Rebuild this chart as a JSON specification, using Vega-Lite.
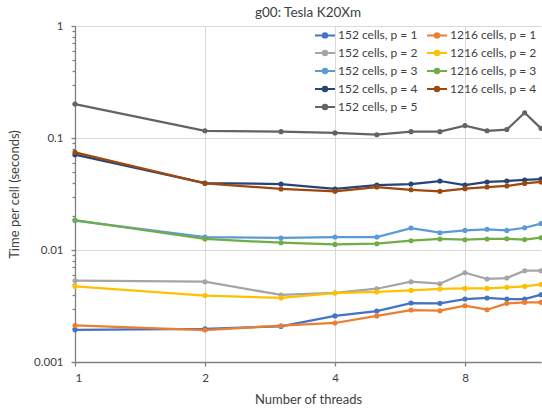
{
  "$schema": "https://vega.github.io/schema/vega-lite/v6.json",
  "width": 466,
  "height": 336,
  "autosize": {"type": "none"},
  "padding": {"left": 75, "top": 26, "right": 1, "bottom": 48},
  "background": "white",
  "title": {"text": "g00: Tesla K20Xm", "font": "Lato", "fontSize": 13.5, "fontWeight": "normal", "color": "#404040", "anchor": "middle", "offset": 1},
  "config": {
    "view": {"stroke": null},
    "axis": {"labelFont": "Lato", "titleFont": "Lato", "labelColor": "#404040", "titleColor": "#404040", "titleFontWeight": "normal", "labelFontSize": 11.5, "titleFontSize": 13, "gridColor": "#d9d9d9", "gridWidth": 1, "domainColor": "#808080", "tickColor": "#808080", "domainWidth": 1.3, "tickWidth": 1.3}
  },
  "data": {"values": [
    {"threads": 1, "time": 0.00194, "series": "152 cells, p = 1"},
    {"threads": 2, "time": 0.00198, "series": "152 cells, p = 1"},
    {"threads": 3, "time": 0.00208, "series": "152 cells, p = 1"},
    {"threads": 4, "time": 0.00258, "series": "152 cells, p = 1"},
    {"threads": 5, "time": 0.00285, "series": "152 cells, p = 1"},
    {"threads": 6, "time": 0.00336, "series": "152 cells, p = 1"},
    {"threads": 7, "time": 0.00334, "series": "152 cells, p = 1"},
    {"threads": 8, "time": 0.00365, "series": "152 cells, p = 1"},
    {"threads": 9, "time": 0.00373, "series": "152 cells, p = 1"},
    {"threads": 10, "time": 0.00365, "series": "152 cells, p = 1"},
    {"threads": 11, "time": 0.00365, "series": "152 cells, p = 1"},
    {"threads": 12, "time": 0.00399, "series": "152 cells, p = 1"},
    {"threads": 1, "time": 0.00212, "series": "1216 cells, p = 1"},
    {"threads": 2, "time": 0.00193, "series": "1216 cells, p = 1"},
    {"threads": 3, "time": 0.00211, "series": "1216 cells, p = 1"},
    {"threads": 4, "time": 0.00223, "series": "1216 cells, p = 1"},
    {"threads": 5, "time": 0.00258, "series": "1216 cells, p = 1"},
    {"threads": 6, "time": 0.00291, "series": "1216 cells, p = 1"},
    {"threads": 7, "time": 0.00287, "series": "1216 cells, p = 1"},
    {"threads": 8, "time": 0.00318, "series": "1216 cells, p = 1"},
    {"threads": 9, "time": 0.00293, "series": "1216 cells, p = 1"},
    {"threads": 10, "time": 0.00334, "series": "1216 cells, p = 1"},
    {"threads": 11, "time": 0.00341, "series": "1216 cells, p = 1"},
    {"threads": 12, "time": 0.00341, "series": "1216 cells, p = 1"},
    {"threads": 1, "time": 0.00532, "series": "152 cells, p = 2"},
    {"threads": 2, "time": 0.00521, "series": "152 cells, p = 2"},
    {"threads": 3, "time": 0.00397, "series": "152 cells, p = 2"},
    {"threads": 4, "time": 0.00415, "series": "152 cells, p = 2"},
    {"threads": 5, "time": 0.00451, "series": "152 cells, p = 2"},
    {"threads": 6, "time": 0.00521, "series": "152 cells, p = 2"},
    {"threads": 7, "time": 0.00500, "series": "152 cells, p = 2"},
    {"threads": 8, "time": 0.00627, "series": "152 cells, p = 2"},
    {"threads": 9, "time": 0.00551, "series": "152 cells, p = 2"},
    {"threads": 10, "time": 0.00562, "series": "152 cells, p = 2"},
    {"threads": 11, "time": 0.00653, "series": "152 cells, p = 2"},
    {"threads": 12, "time": 0.00653, "series": "152 cells, p = 2"},
    {"threads": 1, "time": 0.00473, "series": "1216 cells, p = 2"},
    {"threads": 2, "time": 0.00392, "series": "1216 cells, p = 2"},
    {"threads": 3, "time": 0.00373, "series": "1216 cells, p = 2"},
    {"threads": 4, "time": 0.00413, "series": "1216 cells, p = 2"},
    {"threads": 5, "time": 0.00422, "series": "1216 cells, p = 2"},
    {"threads": 6, "time": 0.00436, "series": "1216 cells, p = 2"},
    {"threads": 7, "time": 0.00449, "series": "1216 cells, p = 2"},
    {"threads": 8, "time": 0.00454, "series": "1216 cells, p = 2"},
    {"threads": 9, "time": 0.00454, "series": "1216 cells, p = 2"},
    {"threads": 10, "time": 0.00464, "series": "1216 cells, p = 2"},
    {"threads": 11, "time": 0.00473, "series": "1216 cells, p = 2"},
    {"threads": 12, "time": 0.00493, "series": "1216 cells, p = 2"},
    {"threads": 1, "time": 0.0183, "series": "152 cells, p = 3"},
    {"threads": 2, "time": 0.01305, "series": "152 cells, p = 3"},
    {"threads": 3, "time": 0.0128, "series": "152 cells, p = 3"},
    {"threads": 4, "time": 0.01305, "series": "152 cells, p = 3"},
    {"threads": 5, "time": 0.01305, "series": "152 cells, p = 3"},
    {"threads": 6, "time": 0.0157, "series": "152 cells, p = 3"},
    {"threads": 7, "time": 0.01427, "series": "152 cells, p = 3"},
    {"threads": 8, "time": 0.01496, "series": "152 cells, p = 3"},
    {"threads": 9, "time": 0.0153, "series": "152 cells, p = 3"},
    {"threads": 10, "time": 0.01496, "series": "152 cells, p = 3"},
    {"threads": 11, "time": 0.0158, "series": "152 cells, p = 3"},
    {"threads": 12, "time": 0.0172, "series": "152 cells, p = 3"},
    {"threads": 1, "time": 0.0185, "series": "1216 cells, p = 3"},
    {"threads": 2, "time": 0.01254, "series": "1216 cells, p = 3"},
    {"threads": 3, "time": 0.01161, "series": "1216 cells, p = 3"},
    {"threads": 4, "time": 0.01122, "series": "1216 cells, p = 3"},
    {"threads": 5, "time": 0.01138, "series": "1216 cells, p = 3"},
    {"threads": 6, "time": 0.01211, "series": "1216 cells, p = 3"},
    {"threads": 7, "time": 0.01254, "series": "1216 cells, p = 3"},
    {"threads": 8, "time": 0.01236, "series": "1216 cells, p = 3"},
    {"threads": 9, "time": 0.01254, "series": "1216 cells, p = 3"},
    {"threads": 10, "time": 0.0126, "series": "1216 cells, p = 3"},
    {"threads": 11, "time": 0.0124, "series": "1216 cells, p = 3"},
    {"threads": 12, "time": 0.01288, "series": "1216 cells, p = 3"},
    {"threads": 1, "time": 0.0710, "series": "152 cells, p = 4"},
    {"threads": 2, "time": 0.0396, "series": "152 cells, p = 4"},
    {"threads": 3, "time": 0.0388, "series": "152 cells, p = 4"},
    {"threads": 4, "time": 0.0351, "series": "152 cells, p = 4"},
    {"threads": 5, "time": 0.0380, "series": "152 cells, p = 4"},
    {"threads": 6, "time": 0.0388, "series": "152 cells, p = 4"},
    {"threads": 7, "time": 0.0413, "series": "152 cells, p = 4"},
    {"threads": 8, "time": 0.0380, "series": "152 cells, p = 4"},
    {"threads": 9, "time": 0.0405, "series": "152 cells, p = 4"},
    {"threads": 10, "time": 0.0413, "series": "152 cells, p = 4"},
    {"threads": 11, "time": 0.0422, "series": "152 cells, p = 4"},
    {"threads": 12, "time": 0.0430, "series": "152 cells, p = 4"},
    {"threads": 1, "time": 0.0744, "series": "1216 cells, p = 4"},
    {"threads": 2, "time": 0.0393, "series": "1216 cells, p = 4"},
    {"threads": 3, "time": 0.0351, "series": "1216 cells, p = 4"},
    {"threads": 4, "time": 0.0334, "series": "1216 cells, p = 4"},
    {"threads": 5, "time": 0.0365, "series": "1216 cells, p = 4"},
    {"threads": 6, "time": 0.0345, "series": "1216 cells, p = 4"},
    {"threads": 7, "time": 0.0334, "series": "1216 cells, p = 4"},
    {"threads": 8, "time": 0.0353, "series": "1216 cells, p = 4"},
    {"threads": 9, "time": 0.0365, "series": "1216 cells, p = 4"},
    {"threads": 10, "time": 0.0373, "series": "1216 cells, p = 4"},
    {"threads": 11, "time": 0.0393, "series": "1216 cells, p = 4"},
    {"threads": 12, "time": 0.0405, "series": "1216 cells, p = 4"},
    {"threads": 1, "time": 0.201, "series": "152 cells, p = 5"},
    {"threads": 2, "time": 0.116, "series": "152 cells, p = 5"},
    {"threads": 3, "time": 0.114, "series": "152 cells, p = 5"},
    {"threads": 4, "time": 0.111, "series": "152 cells, p = 5"},
    {"threads": 5, "time": 0.107, "series": "152 cells, p = 5"},
    {"threads": 6, "time": 0.114, "series": "152 cells, p = 5"},
    {"threads": 7, "time": 0.114, "series": "152 cells, p = 5"},
    {"threads": 8, "time": 0.129, "series": "152 cells, p = 5"},
    {"threads": 9, "time": 0.116, "series": "152 cells, p = 5"},
    {"threads": 10, "time": 0.119, "series": "152 cells, p = 5"},
    {"threads": 11, "time": 0.168, "series": "152 cells, p = 5"},
    {"threads": 12, "time": 0.122, "series": "152 cells, p = 5"}
  ]},
  "encoding": {
    "x": {"field": "threads", "type": "quantitative",
      "scale": {"type": "log", "base": 2, "domain": [1, 12], "nice": false},
      "axis": {"title": "Number of threads", "values": [1, 2, 4, 8], "format": "d", "grid": true, "tickSize": 4, "labelPadding": 6, "titlePadding": 10}},
    "y": {"field": "time", "type": "quantitative",
      "scale": {"type": "log", "domain": [0.001, 1], "nice": false},
      "axis": {"title": "Time per cell (seconds)", "values": [0.001, 0.01, 0.1, 1], "format": "~g", "grid": true, "tickSize": 4, "labelPadding": 8, "titlePadding": 12}},
    "color": {"field": "series", "type": "nominal",
      "scale": {
        "domain": ["152 cells, p = 1", "1216 cells, p = 1", "152 cells, p = 2", "1216 cells, p = 2", "152 cells, p = 3", "1216 cells, p = 3", "152 cells, p = 4", "1216 cells, p = 4", "152 cells, p = 5"],
        "range": ["#4472c4", "#ed7d31", "#a5a5a5", "#ffc000", "#5b9bd5", "#70ad47", "#264478", "#9e480e", "#636363"]},
      "legend": {"title": null, "orient": "none", "legendX": 239, "legendY": -2, "columns": 2, "direction": "horizontal",
        "symbolType": "M-1,0L1,0M0.22,0A0.22,0.22,0,1,1,-0.22,0A0.22,0.22,0,1,1,0.22,0",
        "symbolSize": 400, "symbolStrokeWidth": 2, "labelFont": "Lato", "labelFontSize": 12, "labelColor": "#404040", "labelOffset": 2, "columnPadding": 5, "rowPadding": -2, "labelLimit": 200}}
  },
  "layer": [
    {"mark": {"type": "line", "strokeWidth": 2.25}},
    {"mark": {"type": "point", "filled": true, "size": 26, "opacity": 1},
     "encoding": {"y": {"field": "time", "type": "quantitative",
       "axis": {"title": null, "orient": "left", "values": [0.002, 0.003, 0.004, 0.005, 0.006, 0.007, 0.008, 0.009, 0.02, 0.03, 0.04, 0.05, 0.06, 0.07, 0.08, 0.09, 0.2, 0.3, 0.4, 0.5, 0.6, 0.7, 0.8, 0.9], "labels": false, "domain": false, "grid": false, "tickSize": 3}}}}
  ],
  "resolve": {"axis": {"y": "independent"}}
}
